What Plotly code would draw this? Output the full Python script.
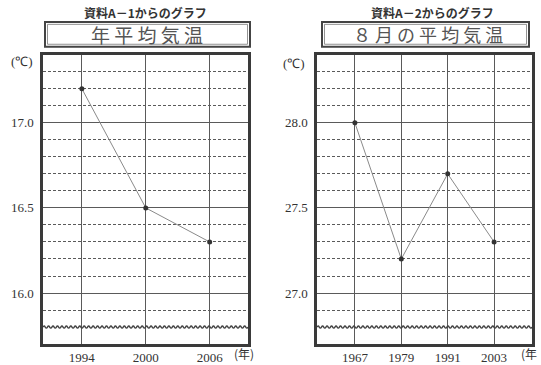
import plotly.graph_objects as go

# ---- data ----
years_a = [1994, 2000, 2006]
temps_a = [17.2, 16.5, 16.3]
years_b = [1967, 1979, 1991, 2003]
temps_b = [28.0, 27.2, 27.7, 27.3]

ytick_a = [16.0, 16.5, 17.0]
ytick_b = [27.0, 27.5, 28.0]
ylab_a = ["16.0", "16.5", "17.0"]
ylab_b = ["27.0", "27.5", "28.0"]

title_small_a = "資料A－1からのグラフ"
title_small_b = "資料A－2からのグラフ"
title_box_a = "年 平 均 気 温"
title_box_b = "８ 月 の 平 均 気 温"

W, H = 541, 365
INK = "#3a3a3a"
GRID = "#5a5a5a"
SERIF = "Liberation Serif"
JP = "Noto Sans CJK JP"

fig = go.Figure()

fig.add_trace(go.Scatter(x=years_a, y=temps_a, mode="lines+markers",
                         line=dict(color="#8a8a8a", width=1),
                         marker=dict(color="#333", size=5),
                         xaxis="x", yaxis="y", showlegend=False))
fig.add_trace(go.Scatter(x=years_b, y=temps_b, mode="lines+markers",
                         line=dict(color="#8a8a8a", width=1),
                         marker=dict(color="#333", size=5),
                         xaxis="x2", yaxis="y2", showlegend=False))


def minor_levels(lo, hi, majors, wave):
    vals = []
    v = lo
    while v <= hi + 1e-9:
        r = round(v, 1)
        if all(abs(r - m) > 1e-6 for m in majors) and abs(r - wave) > 1e-6:
            vals.append(r)
        v += 0.1
    return vals


def yaxis_cfg(rng, ticks, labels, wave, anchor):
    return dict(range=rng, domain=[1 - 346 / H, 1 - 55 / H], anchor=anchor,
                tickmode="array", tickvals=ticks, ticktext=labels,
                showgrid=True, gridcolor=GRID, gridwidth=1.2,
                showline=True, linecolor=INK, linewidth=2.5, mirror=True,
                ticks="", ticklabelstandoff=4, zeroline=False,
                tickfont=dict(family=SERIF, size=13, color="#333"),
                minor=dict(tickmode="array",
                           tickvals=minor_levels(rng[0] + 0.1, rng[1] - 0.1, ticks, wave),
                           showgrid=True, gridcolor=GRID, gridwidth=1,
                           griddash="3px,2px", ticks=""))


def xaxis_cfg(rng, ticks, dom, anchor):
    return dict(range=rng, domain=dom, anchor=anchor,
                tickmode="array", tickvals=ticks, ticktext=[str(t) for t in ticks],
                showgrid=True, gridcolor=GRID, gridwidth=1.2,
                showline=True, linecolor=INK, linewidth=2.5, mirror=True,
                ticks="", zeroline=False, ticklabelstandoff=0,
                tickfont=dict(family=SERIF, size=13, color="#333"))


fig.update_layout(
    width=W, height=H, margin=dict(l=0, r=0, t=0, b=0),
    paper_bgcolor="white", plot_bgcolor="white",
    xaxis=xaxis_cfg([1990.35, 2009.6], years_a, [43 / W, 248 / W], "y"),
    yaxis=yaxis_cfg([15.7, 17.4], ytick_a, ylab_a, 15.8, "x"),
    xaxis2=xaxis_cfg([1957.2, 2012.8], years_b, [317 / W, 532 / W], "y2"),
    yaxis2=yaxis_cfg([26.7, 28.4], ytick_b, ylab_b, 26.8, "x2"),
)


def wave_path(x0, x1, y, amp, n):
    step = (x1 - x0) / (2 * n)
    d = f"M {x0},{y}"
    for i in range(2 * n):
        xa = x0 + step * i
        xb = xa + step
        yy = y + (amp if i % 2 == 0 else -amp)
        d += f" Q {xa + step / 2},{yy} {xb},{y}"
    return d


shapes = []
shapes.append(dict(type="path", xref="x", yref="y",
                   path=wave_path(1990.35, 2009.6, 15.8, 0.012, 46),
                   line=dict(color="#444", width=1.4)))
shapes.append(dict(type="path", xref="x2", yref="y2",
                   path=wave_path(1957.2, 2012.8, 26.8, 0.012, 48),
                   line=dict(color="#444", width=1.4)))
for x0, x1 in [(45, 250), (322, 529)]:
    shapes.append(dict(type="rect", xref="paper", yref="paper",
                       x0=x0 / W, x1=x1 / W, y0=1 - 47 / H, y1=1 - 22 / H,
                       line=dict(color="#444", width=2), fillcolor="rgba(0,0,0,0)"))
    shapes.append(dict(type="rect", xref="paper", yref="paper",
                       x0=(x0 + 2.5) / W, x1=(x1 - 2.5) / W, y0=1 - 44.5 / H, y1=1 - 24.5 / H,
                       line=dict(color="#777", width=0.8), fillcolor="rgba(0,0,0,0)"))

fig.update_layout(shapes=shapes)


def note(text, x, y, size, family, color="#333", xanchor="center"):
    return dict(text=text, x=x / W, y=1 - y / H, xref="paper", yref="paper",
                xanchor=xanchor, yanchor="middle", showarrow=False,
                font=dict(family=family, size=size, color=color))


ann = [
    note("<b>" + title_small_a + "</b>", 145, 13, 12, JP),
    note("<b>" + title_small_b + "</b>", 432, 13, 12, JP),
    note(title_box_a, 147, 34.5, 19, JP, "#555"),
    note(title_box_b, 428, 34.5, 18, JP, "#555"),
    note("(℃)", 22, 62, 13, SERIF),
    note("(℃)", 294, 64, 13, SERIF),
    note("(年)", 244, 355, 12, JP),
    note("(年", 519, 355, 12, JP, xanchor="left"),
]
fig.update_layout(annotations=ann)

fig.write_html("out.html", config={"displayModeBar": False},
               post_script="document.body.style.margin='0';document.body.style.padding='0';")
